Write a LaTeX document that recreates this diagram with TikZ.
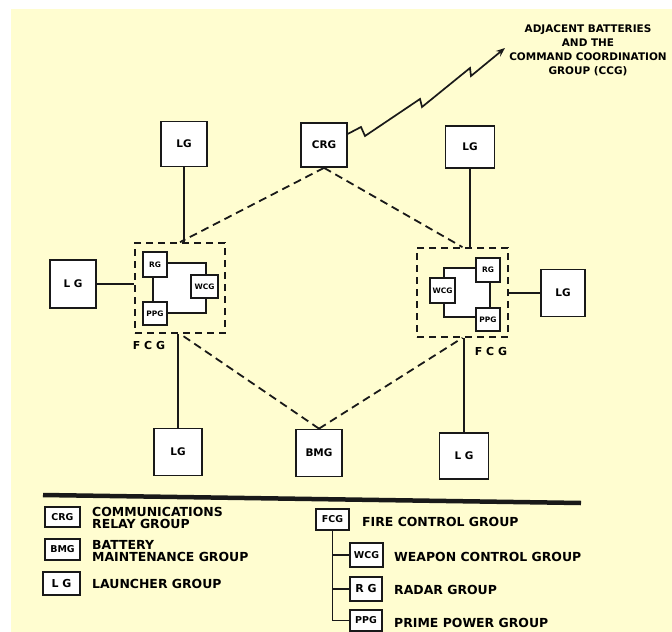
\documentclass[tikz,border=0pt]{standalone}
\usepackage{fontspec}
\setmainfont{DejaVu Sans}
\usetikzlibrary{positioning,arrows.meta}

\definecolor{paper}{RGB}{255,253,208}
\definecolor{ink}{RGB}{25,25,25}

\begin{document}
\begin{tikzpicture}[x=1bp,y=-1bp,>={Stealth[length=9bp,width=7bp]},
    bigbox/.style={draw=ink,fill=white,line width=1.7bp,inner sep=0pt,
        minimum width=46bp,minimum height=45bp,font=\bfseries\fontsize{10.5}{11}\selectfont},
    smallbox/.style={draw=ink,fill=white,line width=1.5bp,inner sep=0pt,
        minimum width=24bp,minimum height=24bp,font=\bfseries\fontsize{7.5}{8}\selectfont},
    fcgbox/.style={draw=ink,line width=1.7bp,dash pattern=on 7bp off 5bp,
        minimum width=90bp,minimum height=90bp},
    link/.style={draw=ink,line width=1.5bp},
    dashlink/.style={link,line width=1.8bp,dash pattern=on 8bp off 5bp},
    legbox/.style={draw=ink,fill=white,line width=1.8bp,inner sep=0pt,
        minimum width=34bp,minimum height=22bp,font=\bfseries\fontsize{9.5}{10}\selectfont},
    legtext/.style={font=\bfseries\fontsize{12.5}{12}\selectfont,align=left,inner sep=0pt}]
    % paper
    \fill[white] (0,0) rectangle (672,632);
    \fill[paper] (11,9) rectangle (672,632);
    \useasboundingbox (0,0) rectangle (672,632);

    % fire control groups
    \node[fcgbox] (fcgL) at (180,288) {};
    \node[fcgbox,minimum width=91bp,minimum height=89bp] (fcgR) at (462.5,292.5) {};
    \node[font=\bfseries\fontsize{11}{12}\selectfont] (fcgLlab) at (149,346) {F C G};
    \node[font=\bfseries\fontsize{11}{12}\selectfont] (fcgRlab) at (491,352) {F C G};

    % left fcg inside
    \draw[ink,fill=white,line width=1.4bp] (153,263) rectangle (206,313);
    \node[smallbox,minimum height=25bp] (rgL) at (155,264.5) {RG};
    \node[smallbox,minimum height=23bp] (ppgL) at (155,313.5) {PPG};
    \node[smallbox,minimum width=27bp,minimum height=23bp] (wcgL) at (204.5,286.5) {WCG};

    % right fcg inside
    \draw[ink,fill=white,line width=1.4bp] (444,268) rectangle (490,317);
    \node[smallbox] (rgR) at (488,270) {RG};
    \node[smallbox,minimum height=23bp] (ppgR) at (488,319.5) {PPG};
    \node[smallbox,minimum width=25bp,minimum height=25bp] (wcgR) at (442.5,290.5) {WCG};

    % groups round the battery
    \node[bigbox] (lgTL) at (184,144) {LG};
    \node[bigbox,minimum height=44bp] (crg) at (324,145) {CRG};
    \node[bigbox,minimum width=49bp,minimum height=42bp] (lgTR) at (470,147) {LG};
    \node[bigbox,minimum height=48bp] (lgL) at (73,284) {L G};
    \node[bigbox,minimum width=44bp,minimum height=47bp] (lgR) at (563,293) {LG};
    \node[bigbox,minimum width=48bp,minimum height=47bp] (lgBL) at (178,452) {LG};
    \node[bigbox,minimum height=47bp] (bmg) at (319,453) {BMG};
    \node[bigbox,minimum width=49bp,minimum height=46bp] (lgBR) at (464,456) {L G};

    % cables
    \draw[link] (lgTL.south) -- (lgTL.south |- fcgL.north);
    \draw[link] (lgBL.north) -- (lgBL.north |- fcgL.south);
    \draw[link] (lgL.east) -- (lgL.east -| fcgL.west);
    \draw[link] (lgTR.south) -- (lgTR.south |- fcgR.north);
    \draw[link] (lgBR.north) -- (lgBR.north |- fcgR.south);
    \draw[link] (lgR.west) -- (lgR.west -| fcgR.east);

    % radio links
    \draw[dashlink] (crg.south) -- (fcgL.north);
    \draw[dashlink] (crg.south) -- (fcgR.north);
    \draw[dashlink] (bmg.north) -- (fcgL.south);
    \draw[dashlink] (bmg.north) -- (fcgR.south);

    % link to adjacent batteries
    \coordinate (ccg) at (505,48);
    \draw[->,ink,line width=1.7bp,line join=miter]
        (crg.25) -- (361,127) -- (365,136) -- (420,99) -- (422,107)
        -- (470,68) -- (471,76) -- (ccg);
    \node[align=center,font=\bfseries\fontsize{10.5}{14}\selectfont] (ccgtext) at (588,50)
        {ADJACENT BATTERIES\\AND THE\\COMMAND COORDINATION\\GROUP (CCG)};

    % legend
    \draw[ink,line width=4.5bp] (43,495) -- (581,503);
    \node[legbox,minimum width=35bp,minimum height=20bp] (lcrg) at (62.5,517) {CRG};
    \node[legbox,minimum width=35bp,minimum height=21bp] (lbmg) at (62.5,549.5) {BMG};
    \node[legbox,minimum width=37bp,minimum height=23bp,font=\bfseries\fontsize{11}{12}\selectfont] (llg) at (61.5,583.5) {L G};
    \node[legtext,anchor=west] (lcrgtext) at (92,518) {COMMUNICATIONS\\RELAY GROUP};
    \node[legtext,anchor=west] (lbmgtext) at (92,551) {BATTERY\\MAINTENANCE GROUP};
    \node[legtext,anchor=west] (llgtext) at (92,584) {LAUNCHER GROUP};

    \node[legbox,minimum width=33bp,minimum height=21bp] (lfcg) at (332.5,519.5) {FCG};
    \node[legbox,minimum width=33bp,minimum height=24bp] (lwcg) at (366.5,555) {WCG};
    \node[legbox,minimum width=32bp,minimum height=24bp,font=\bfseries\fontsize{11}{12}\selectfont] (lrg) at (366,589) {R G};
    \node[legbox,minimum width=32bp,minimum height=21bp] (lppg) at (366,620.5) {PPG};
    \draw[link,line width=1.8bp] (lfcg.south) |- (lppg.west);
    \draw[link,line width=1.8bp] (lfcg.south |- lwcg.west) -- (lwcg.west);
    \draw[link,line width=1.8bp] (lfcg.south |- lrg.west) -- (lrg.west);
    \node[legtext,anchor=west] (lfcgtext) at (362,522) {FIRE CONTROL GROUP};
    \node[legtext,anchor=west] (lwcgtext) at (394,557) {WEAPON CONTROL GROUP};
    \node[legtext,anchor=west] (lrgtext) at (394,590) {RADAR GROUP};
    \node[legtext,anchor=west] (lppgtext) at (394,623) {PRIME POWER GROUP};
\end{tikzpicture}
\end{document}
